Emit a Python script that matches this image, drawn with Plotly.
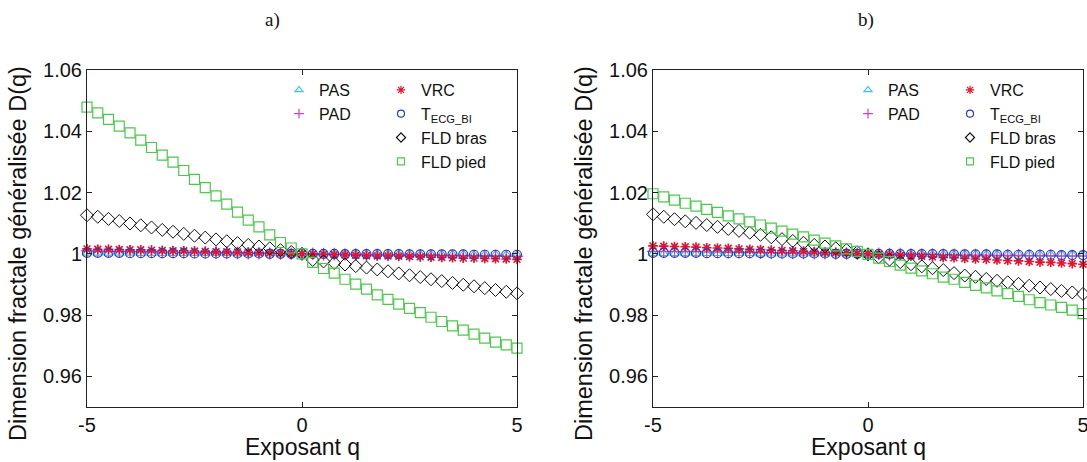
import plotly.graph_objects as go

W, H = 1087, 462

q = [-5, -4.75, -4.5, -4.25, -4, -3.75, -3.5, -3.25, -3, -2.75, -2.5, -2.25, -2, -1.75, -1.5,
     -1.25, -1, -0.75, -0.5, -0.25, 0, 0.25, 0.5, 0.75, 1, 1.25, 1.5, 1.75, 2, 2.25, 2.5,
     2.75, 3, 3.25, 3.5, 3.75, 4, 4.25, 4.5, 4.75, 5]

# ---- panel a ----
pas_a = [1.0002, 1.0002, 1.0002, 1.0002, 1.0002, 1.0001, 1.0001, 1.0001, 1.0001, 1.0001,
         1.0001, 1.0001, 1.0001, 1.0001, 1.0000, 1.0000, 1.0000, 1.0000, 1.0000, 1.0000,
         1.0000,
         1.0000, 1.0000, 1.0000, 1.0000, 1.0000, 0.9999, 0.9999, 0.9999, 0.9999, 0.9999,
         0.9999, 0.9999, 0.9999, 0.9999, 0.9999, 0.9998, 0.9998, 0.9998, 0.9998, 0.9998]
pad_a = [1.0010, 1.0009, 1.0009, 1.0008, 1.0008, 1.0007, 1.0007, 1.0006, 1.0006, 1.0005,
         1.0005, 1.0004, 1.0004, 1.0003, 1.0003, 1.0002, 1.0002, 1.0001, 1.0001, 1.0000,
         1.0000,
         1.0000, 0.9999, 0.9999, 0.9998, 0.9998, 0.9997, 0.9997, 0.9996, 0.9996, 0.9996,
         0.9995, 0.9995, 0.9994, 0.9994, 0.9994, 0.9993, 0.9993, 0.9993, 0.9992, 0.9992]
vrc_a = [1.0016, 1.0015, 1.0015, 1.0014, 1.0013, 1.0013, 1.0012, 1.0011, 1.0010, 1.0010,
         1.0009, 1.0008, 1.0007, 1.0007, 1.0006, 1.0005, 1.0004, 1.0003, 1.0002, 1.0001,
         1.0000,
         0.9999, 0.9998, 0.9997, 0.9996, 0.9995, 0.9994, 0.9993, 0.9993, 0.9992, 0.9991,
         0.9990, 0.9989, 0.9988, 0.9987, 0.9986, 0.9986, 0.9985, 0.9984, 0.9983, 0.9982]
tecg_a = [1.0003, 1.0003, 1.0003, 1.0003, 1.0002, 1.0002, 1.0002, 1.0002, 1.0002, 1.0002,
          1.0001, 1.0001, 1.0001, 1.0001, 1.0001, 1.0001, 1.0001, 1.0000, 1.0000, 1.0000,
          1.0000,
          1.0000, 1.0000, 1.0000, 0.9999, 0.9999, 0.9999, 0.9999, 0.9999, 0.9999, 0.9998,
          0.9998, 0.9998, 0.9998, 0.9998, 0.9998, 0.9997, 0.9997, 0.9997, 0.9997, 0.9997]
bras_a = [1.0126, 1.0121, 1.0114, 1.0107, 1.0099, 1.0093, 1.0086, 1.0078, 1.0072, 1.0065,
          1.0059, 1.0053, 1.0047, 1.0041, 1.0035, 1.0029, 1.0024, 1.0018, 1.0012, 1.0006,
          1.0000,
          0.9980, 0.9975, 0.9970, 0.9965, 0.9960, 0.9955, 0.9949, 0.9943, 0.9936, 0.9930,
          0.9924, 0.9917, 0.9911, 0.9905, 0.9899, 0.9894, 0.9888, 0.9882, 0.9876, 0.9871]
pied_a = [1.0479, 1.0460, 1.0439, 1.0417, 1.0395, 1.0371, 1.0347, 1.0322, 1.0299, 1.0272,
          1.0243, 1.0216, 1.0189, 1.0162, 1.0136, 1.0110, 1.0088, 1.0062, 1.0037, 1.0019,
          1.0000,
          0.9972, 0.9952, 0.9937, 0.9917, 0.9901, 0.9885, 0.9866, 0.9851, 0.9836, 0.9822,
          0.9808, 0.9793, 0.9779, 0.9765, 0.9751, 0.9738, 0.9725, 0.9712, 0.9703, 0.9692]

# ---- panel b ----
pas_b = [1.0001, 1.0001, 1.0001, 1.0001, 1.0001, 1.0001, 1.0001, 1.0001, 1.0001, 1.0001,
         1.0000, 1.0000, 1.0000, 1.0000, 1.0000, 1.0000, 1.0000, 1.0000, 1.0000, 1.0000,
         1.0000,
         1.0000, 1.0000, 1.0000, 1.0000, 1.0000, 0.9999, 0.9999, 0.9999, 0.9999, 0.9999,
         0.9999, 0.9999, 0.9999, 0.9999, 0.9999, 0.9998, 0.9998, 0.9998, 0.9998, 0.9998]
pad_b = [1.0008, 1.0008, 1.0007, 1.0007, 1.0007, 1.0006, 1.0006, 1.0005, 1.0005, 1.0005,
         1.0004, 1.0004, 1.0003, 1.0003, 1.0003, 1.0002, 1.0002, 1.0001, 1.0001, 1.0000,
         1.0000,
         1.0000, 0.9999, 0.9999, 0.9998, 0.9998, 0.9998, 0.9997, 0.9997, 0.9996, 0.9996,
         0.9996, 0.9995, 0.9995, 0.9995, 0.9994, 0.9994, 0.9994, 0.9993, 0.9993, 0.9993]
vrc_b = [1.0026, 1.0025, 1.0024, 1.0023, 1.0022, 1.0020, 1.0019, 1.0018, 1.0016, 1.0015,
         1.0014, 1.0012, 1.0011, 1.0010, 1.0008, 1.0007, 1.0005, 1.0004, 1.0003, 1.0001,
         1.0000,
         0.9998, 0.9997, 0.9995, 0.9993, 0.9992, 0.9990, 0.9988, 0.9987, 0.9985, 0.9983,
         0.9982, 0.9980, 0.9978, 0.9977, 0.9975, 0.9973, 0.9972, 0.9970, 0.9968, 0.9966]
tecg_b = [1.0003, 1.0003, 1.0003, 1.0003, 1.0003, 1.0002, 1.0002, 1.0002, 1.0002, 1.0002,
          1.0002, 1.0001, 1.0001, 1.0001, 1.0001, 1.0001, 1.0001, 1.0000, 1.0000, 1.0000,
          1.0000,
          1.0000, 1.0000, 0.9999, 0.9999, 0.9999, 0.9999, 0.9999, 0.9998, 0.9998, 0.9998,
          0.9998, 0.9998, 0.9997, 0.9997, 0.9997, 0.9997, 0.9997, 0.9996, 0.9996, 0.9996]
bras_b = [1.0129, 1.0121, 1.0113, 1.0106, 1.0101, 1.0094, 1.0088, 1.0081, 1.0075, 1.0069,
          1.0062, 1.0054, 1.0048, 1.0042, 1.0036, 1.0029, 1.0024, 1.0018, 1.0012, 1.0005,
          0.9998,
          0.9989, 0.9981, 0.9973, 0.9966, 0.9959, 0.9953, 0.9947, 0.9937, 0.9929, 0.9925,
          0.9918, 0.9912, 0.9907, 0.9902, 0.9896, 0.9890, 0.9885, 0.9879, 0.9874, 0.9869]
pied_b = [1.0196, 1.0186, 1.0175, 1.0165, 1.0156, 1.0145, 1.0135, 1.0124, 1.0114, 1.0104,
          1.0094, 1.0084, 1.0074, 1.0064, 1.0055, 1.0045, 1.0035, 1.0026, 1.0016, 1.0008,
          0.9998,
          0.9986, 0.9975, 0.9963, 0.9953, 0.9944, 0.9935, 0.9924, 0.9917, 0.9907, 0.9897,
          0.9889, 0.9879, 0.9870, 0.9861, 0.9850, 0.9841, 0.9833, 0.9825, 0.9816, 0.9805]

series_names = ["PAS", "PAD", "VRC", "T<sub>ECG_BI</sub>", "FLD bras", "FLD pied"]
y_ticks = [0.96, 0.98, 1.0, 1.02, 1.04, 1.06]
y_tick_text = ["0.96", "0.98", "1", "1.02", "1.04", "1.06"]
x_ticks = [-5, 0, 5]
x_tick_text = ["-5", "0", "5"]
panel_titles = ["a)", "b)"]
x_title = "Exposant q"
y_title = "Dimension fractale généralisée D(q)"

styles = [
    dict(symbol="triangle-up-open", color="#3cc8d8", size=8, width=1.2),
    dict(symbol="cross-thin-open", color="#d040c8", size=9, width=1.2),
    dict(symbol="asterisk-open", color="#e8102a", size=8, width=1.6),
    dict(symbol="circle-open", color="#2a3cc0", size=9, width=1.2),
    dict(symbol="diamond-open", color="#111111", size=10, width=1.0),
    dict(symbol="square-open", color="#4cc84c", size=10, width=1.2),
]

fig = go.Figure()
panels = [
    ([pas_a, pad_a, vrc_a, tecg_a, bras_a, pied_a], "x", "y", ["legend", "legend2"]),
    ([pas_b, pad_b, vrc_b, tecg_b, bras_b, pied_b], "x2", "y2", ["legend3", "legend4"]),
]
for data, xa, ya, legs in panels:
    for i, (vals, name, st) in enumerate(zip(data, series_names, styles)):
        fig.add_trace(go.Scatter(
            x=q, y=vals, mode="markers", name=name, xaxis=xa, yaxis=ya,
            showlegend=False, cliponaxis=False,
            marker=dict(symbol=st["symbol"], color=st["color"], size=st["size"],
                        line=dict(color=st["color"], width=st["width"])),
        ))
    # legend entries (smaller symbols, as in the reference legend)
    for i, (name, st) in enumerate(zip(series_names, styles)):
        fig.add_trace(go.Scatter(
            x=[None], y=[None], mode="markers", name=name, xaxis=xa, yaxis=ya,
            legend=legs[0] if i < 2 else legs[1], showlegend=True,
            marker=dict(symbol=st["symbol"], color=st["color"], size=7,
                        line=dict(color=st["color"], width=1.2)),
        ))

ax_common = dict(showgrid=False, zeroline=False, showline=True, linecolor="#222222",
                 linewidth=1, mirror="ticks", ticks="inside", ticklen=5, tickcolor="#222222",
                 automargin=False, ticklabeloverflow="allow",
                 tickfont=dict(family="Liberation Sans, Arial", size=20, color="#111111"))
y0 = 1 - 407 / H
y1 = 1 - 70 / H
fig.update_layout(
    template="none",
    width=W, height=H, margin=dict(l=0, r=0, t=0, b=0, pad=0, autoexpand=False),
    paper_bgcolor="white", plot_bgcolor="white",
    xaxis=dict(domain=[87 / W, 517 / W], range=[-5, 5], tickvals=x_ticks, ticktext=x_tick_text,
               anchor="y", **ax_common),
    yaxis=dict(domain=[y0, y1], range=[0.95, 1.06], tickvals=y_ticks, ticktext=y_tick_text,
               anchor="x", **ax_common),
    xaxis2=dict(domain=[653 / W, 1083 / W], range=[-5, 5], tickvals=x_ticks, ticktext=x_tick_text,
                anchor="y2", **ax_common),
    yaxis2=dict(domain=[y0, y1], range=[0.95, 1.06], tickvals=y_ticks, ticktext=y_tick_text,
                anchor="x2", **ax_common),
    showlegend=True,
)

leg_common = dict(xanchor="left", yanchor="top", bgcolor="rgba(255,255,255,0)",
                  font=dict(family="Liberation Sans, Arial", size=16, color="#111111"),
                  tracegroupgap=0, borderwidth=0)
leg_top = 1 - 73 / H
fig.update_layout(
    legend=dict(x=279 / W, y=leg_top, **leg_common),
    legend2=dict(x=381 / W, y=leg_top, **leg_common),
    legend3=dict(x=848 / W, y=leg_top, **leg_common),
    legend4=dict(x=950 / W, y=leg_top, **leg_common),
)

annotations = []
for k, (xc, tcx) in enumerate([(302, 272), (868, 866)]):
    annotations.append(dict(text=panel_titles[k], x=tcx / W, y=1 - 20 / H, xref="paper", yref="paper",
                            showarrow=False, xanchor="center", yanchor="middle",
                            font=dict(family="Liberation Serif, Times New Roman", size=19, color="#111111")))
    annotations.append(dict(text=x_title, x=xc / W, y=1 - 447 / H, xref="paper", yref="paper",
                            showarrow=False, xanchor="center", yanchor="middle",
                            font=dict(family="Liberation Sans, Arial", size=23, color="#111111")))
    annotations.append(dict(text=y_title, x=(18 + 566 * k) / W, y=1 - 254 / H, xref="paper", yref="paper",
                            showarrow=False, xanchor="center", yanchor="middle", textangle=-90,
                            font=dict(family="Liberation Sans, Arial", size=23.5, color="#111111")))
fig.update_layout(annotations=annotations)

fig.write_html("out.html", config={"displayModeBar": False},
               post_script="document.body.style.margin='0';document.body.style.overflow='hidden';")
